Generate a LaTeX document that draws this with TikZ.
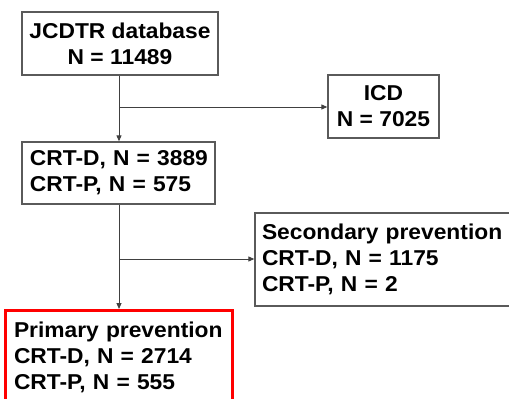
\documentclass[tikz,border=0pt]{standalone}
\usepackage{fontspec}
\newfontfamily\boxfont{Liberation Sans}[FakeStretch=1.06]
\usetikzlibrary{arrows.meta}
\definecolor{boxgray}{HTML}{5A5A5A}
\definecolor{linegray}{HTML}{404040}
\definecolor{boxred}{HTML}{FF0000}
\tikzset{
  box/.style={draw=boxgray, line width=1.3pt, rectangle, inner sep=0pt,
    font=\boxfont\bfseries\fontsize{21.5}{26}\selectfont, text=black},
  leftbox/.style={box, align=left},
  redbox/.style={leftbox, draw=boxred, line width=3pt},
  conn/.style={draw=linegray, line width=1pt},
  arr/.style={conn, -{Triangle[length=6pt,width=5pt]}}
}
\begin{document}
\begin{tikzpicture}[x=1pt,y=-1pt]
\useasboundingbox (0,0) rectangle (509,399);
\clip (0,0) rectangle (509,399);
\fill[white] (0,0) rectangle (509,399);
\node[box, align=center, minimum width=196pt, minimum height=63pt] (db) at (120,43.5) {JCDTR database\\N = 11489};
\node[box, align=center, minimum width=111pt, minimum height=63pt] (icd) at (383.5,106.5) {ICD\\N = 7025};
\node[leftbox, inner xsep=8pt, text width=177pt, minimum height=62pt] (crt) at (118.5,173) {\mbox{CRT-D, N = 3889}\\\mbox{CRT-P, N = 575}};
\node[leftbox, inner xsep=7pt, text width=251pt, minimum height=93pt] (sec) at (387.5,259.5) {\mbox{Secondary prevention}\\\mbox{CRT-D, N = 1175}\\\mbox{CRT-P, N = 2}};
\node[redbox, inner xsep=9pt, text width=209pt, minimum height=93pt] (prim) at (118.5,357) {\mbox{Primary prevention}\\\mbox{CRT-D, N = 2714}\\\mbox{CRT-P, N = 555}};
\coordinate (b1) at (119,107);
\coordinate (b2) at (119,259);
\draw[arr] (db.south -| b1) -- (crt.north -| b1);
\draw[arr] (b1) -- (b1 -| icd.west);
\draw[arr] (crt.south -| b2) -- (prim.north -| b2);
\draw[arr] (b2) -- (b2 -| sec.west);
\end{tikzpicture}
\end{document}
